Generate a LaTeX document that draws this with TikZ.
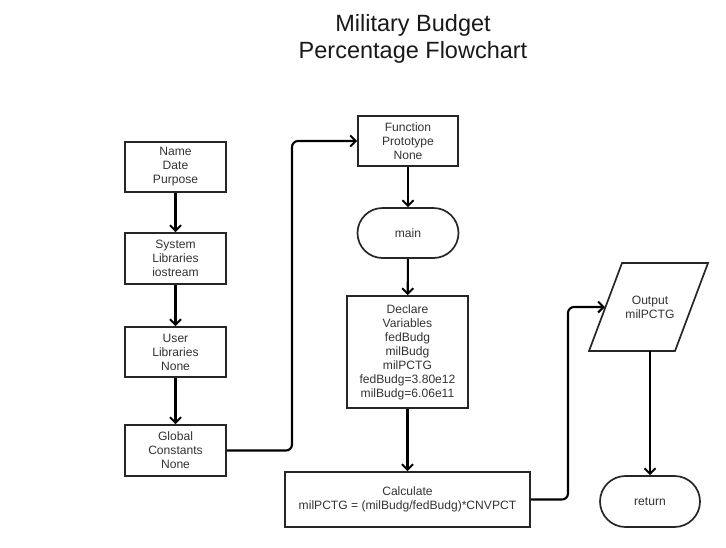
\documentclass[tikz,border=0pt]{standalone}
\usepackage{fontspec}
\setmainfont{Liberation Sans}
\usetikzlibrary{arrows.meta,shapes.misc}
\begin{document}
\begin{tikzpicture}[x=1pt,y=-1pt,
  box/.style={draw=black!85,line width=1.7pt,fill=white,align=center,inner sep=0pt,
    font=\fontsize{12.1}{14}\selectfont,text=black!80},
  term/.style={box,rounded rectangle},
  conn/.style={line width=2.1pt,black,rounded corners=6pt,-{Straight Barb[length=5.5pt,width=11pt,line width=2pt]}}]
\useasboundingbox (0,0) rectangle (726,547);
\node[font=\fontsize{23.5}{27}\selectfont,align=center,text=black!90] (title) at (413,38.5) {Military Budget\\Percentage Flowchart};
\node[box,minimum width=101pt,minimum height=50pt] (name) at (175.5,167) {Name\\Date\\Purpose};
\node[box,minimum width=101pt,minimum height=51pt] (sys) at (175.5,258.5) {System\\Libraries\\iostream};
\node[box,minimum width=101pt,minimum height=50pt] (usr) at (175.5,352) {User\\Libraries\\None};
\node[box,minimum width=101pt,minimum height=51pt] (glob) at (175.5,450.5) {Global\\Constants\\None};
\node[box,minimum width=100pt,minimum height=50pt] (proto) at (408,141) {Function\\Prototype\\None};
\node[term,minimum width=101pt,minimum height=50pt] (main) at (408,233) {main};
\node[box,minimum width=121pt,minimum height=112pt] (decl) at (407.5,352) {Declare\\Variables\\fedBudg\\milBudg\\milPCTG\\fedBudg=3.80e12\\milBudg=6.06e11};
\node[box,minimum width=245pt,minimum height=55pt] (calc) at (407.5,499.5) {Calculate\\milPCTG = (milBudg/fedBudg)*CNVPCT};
\draw[draw=black!85,line width=1.7pt,fill=white] (622,263) -- (708,263) -- (675,351) -- (589,351) -- cycle;
\node[align=center,font=\fontsize{12.1}{14}\selectfont,text=black!80] (out) at (650,307) {Output\\milPCTG};
\coordinate (outin) at (605,307);
\node[term,minimum width=100pt,minimum height=51pt] (ret) at (650,501.5) {return};
\draw[conn] (name) -- (sys);
\draw[conn] (sys) -- (usr);
\draw[conn] (usr) -- (glob);
\draw[conn] (glob.east) -- (292,450.5) -- (292,141) -- (proto.west);
\draw[conn] (proto) -- (main);
\draw[conn] (main) -- (decl);
\draw[conn] (decl) -- (calc);
\draw[conn] (calc.east) -- (568,499.5) -- (568,307) -- (outin);
\draw[conn] (650,351) -- (ret.north);
\end{tikzpicture}
\end{document}
